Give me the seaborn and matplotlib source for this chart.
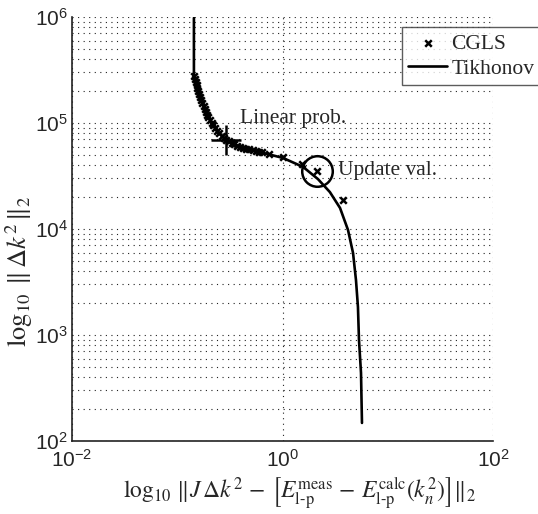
import matplotlib
matplotlib.use("Agg")
import matplotlib.pyplot as plt
import seaborn as sns
import pandas as pd
import numpy as np
from matplotlib.ticker import LogLocator, NullLocator, FixedLocator
from matplotlib.mathtext import MathTextParser

# ---- data ----
tik_x = [0.144, 0.144, 0.164, 0.196, 0.239, 0.290, 0.394, 0.611, 1.01, 1.57,
         2.17, 2.82, 3.52, 4.19, 4.68, 4.99, 5.21, 5.33, 5.57, 5.69]
tik_y = [9.8e5, 2.77e5, 1.76e5, 1.14e5, 8.41e4, 6.92e4, 5.94e4, 5.32e4, 4.68e4, 3.85e4,
         2.96e4, 2.23e4, 1.58e4, 9.8e3, 5.94e3, 3.30e3, 1.84e3, 897, 439, 148]

cgls_x = [0.1440, 0.1472, 0.1497, 0.1527, 0.1554, 0.1585, 0.1613,
          0.1645, 0.1689, 0.1734, 0.1780, 0.1827, 0.1876, 0.1926,
          0.1960, 0.2039, 0.2121, 0.2206, 0.2295,
          0.2385, 0.2506, 0.2633, 0.2765,
          0.2905, 0.3090, 0.3284, 0.3491, 0.3712,
          0.3948, 0.4224, 0.4530, 0.4848, 0.5198, 0.5563, 0.5968, 0.6387,
          0.744, 1.011, 1.532, 2.127, 3.756]
cgls_y = [2.770e5, 2.601e5, 2.436e5, 2.283e5, 2.139e5, 2.004e5, 1.877e5,
          1.759e5, 1.648e5, 1.544e5, 1.447e5, 1.356e5, 1.270e5, 1.190e5,
          1.139e5, 1.072e5, 1.009e5, 9.49e4, 8.93e4,
          8.41e4, 8.00e4, 7.62e4, 7.26e4,
          6.91e4, 6.71e4, 6.51e4, 6.31e4, 6.12e4,
          5.94e4, 5.83e4, 5.73e4, 5.64e4, 5.55e4, 5.46e4, 5.36e4, 5.27e4,
          5.10e4, 4.78e4, 4.10e4, 3.53e4, 1.877e4]

linear_pt = (0.2905, 6.91e4)
update_pt = (2.127, 3.53e4)
linear_label = "Linear prob."
update_label = "Update val."
x_ticks = [1e-2, 1e0, 1e2]
y_ticks = [1e2, 1e3, 1e4, 1e5, 1e6]

# ---- style ----
sns.set_style("white")
plt.rcParams["font.family"] = ["Liberation Serif", "DejaVu Serif"]
plt.rcParams["mathtext.fontset"] = "stix"

W, H = 538, 514
fig = plt.figure(figsize=(W / 100, H / 100), dpi=100)
ax = fig.add_axes([72 / W, (H - 441) / H, (493 - 72) / W, (441 - 17) / H])

tik_df = pd.DataFrame({"x": tik_x, "y": tik_y})
cg_df = pd.DataFrame({"x": cgls_x, "y": cgls_y})

sns.lineplot(data=tik_df, x="x", y="y", sort=False, estimator=None, ax=ax,
             color="black", lw=1.9, label="Tikhonov", zorder=3)
sns.scatterplot(data=cg_df, x="x", y="y", ax=ax, marker="x", s=22,
                color="black", linewidth=1.8, label="CGLS", zorder=4)

ax.plot([linear_pt[0]], [linear_pt[1]], marker="+", ms=21, mew=1.8,
        color="black", ls="none", zorder=5)
ax.plot([update_pt[0]], [update_pt[1]], marker="o", ms=22, mew=1.8,
        mfc="none", mec="black", ls="none", zorder=5)

ax.text(0.394, 1.11e5, linear_label, fontsize=15.5, va="center", ha="left")
ax.text(3.37, 3.53e4, update_label, fontsize=15.5, va="center", ha="left")

ax.set_xscale("log")
ax.set_yscale("log")
ax.set_xlim(1e-2, 1e2)
ax.set_ylim(1e2, 1e6)
ax.xaxis.set_major_locator(FixedLocator(x_ticks))
ax.xaxis.set_minor_locator(NullLocator())
ax.yaxis.set_major_locator(FixedLocator(y_ticks))
ax.yaxis.set_minor_locator(LogLocator(base=10, subs=np.arange(2, 10), numticks=20))

dot = (0, (1, 4))
ax.grid(True, which="major", axis="both", ls=dot, lw=0.8, color="#222222")
ax.grid(True, which="minor", axis="y", ls=dot, lw=0.8, color="#222222")

for s in ["top", "right"]:
    ax.spines[s].set_visible(False)
for s in ["left", "bottom"]:
    ax.spines[s].set_color("#222222")
    ax.spines[s].set_linewidth(1.2)

ax.tick_params(which="both", length=0)
ax.tick_params(axis="y", pad=3)
ax.tick_params(axis="x", pad=6)
for lab in ax.get_xticklabels() + ax.get_yticklabels():
    lab.set_fontfamily("Liberation Sans")
    lab.set_fontsize(15)


def safe(*cands):
    for s in cands:
        try:
            MathTextParser("path").parse(s)
            return s
        except Exception:
            continue
    return cands[-1]


ylab = safe(r"$\log_{10}\;\|\underline{\Delta k}^2\|_2$",
            r"$\log_{10}\;\|\,\Delta k^2\,\|_2$")
xlab = safe(r"$\log_{10}\,\|\underline{\underline{J}}\,\underline{\Delta k}^2\,-\,\left[\underline{E}^{\rm meas}_{\rm l\text{-}p}\,-\,\underline{E}^{\rm calc}_{\rm l\text{-}p}(\underline{k}^2_n)\right]\|_2$",
            r"$\log_{10}\,\|J\,\Delta k^2\,-\,\left[E^{\rm meas}_{\mathrm{l}\text{-}\mathrm{p}}\,-\,E^{\rm calc}_{\mathrm{l}\text{-}\mathrm{p}}(k^2_n)\right]\|_2$",
            r"$\log_{10}\,\|J\,\Delta k^2\,-\,\left[E^{\rm meas}_{\rm l\!\!\!-\!p}\,-\,E^{\rm calc}_{\rm l\!\!\!-\!p}(k^2_n)\right]\|_2$")
ax.set_ylabel(ylab, fontsize=19)
ax.set_xlabel(xlab, fontsize=17)
ax.yaxis.set_label_coords(-0.088, 0.40)
ax.xaxis.set_label_coords(0.54, -0.082)

# legend: CGLS first, Tikhonov second
h, l = ax.get_legend_handles_labels()
order = [l.index("CGLS"), l.index("Tikhonov")]
leg = ax.legend([h[i] for i in order], [l[i] for i in order],
                loc="upper left", bbox_to_anchor=(402 / W, 1 - 27 / H),
                bbox_transform=fig.transFigure, fontsize=15.5, frameon=True,
                fancybox=False, edgecolor="#333333", handlelength=1.8,
                handletextpad=0.2, borderpad=0.3, labelspacing=0.25,
                borderaxespad=0)
leg.get_frame().set_linewidth(1.0)

fig.savefig("out.png", dpi=100)
